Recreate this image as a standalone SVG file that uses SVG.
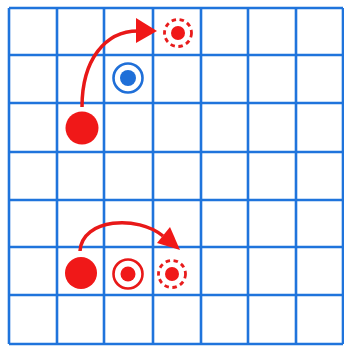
<svg xmlns="http://www.w3.org/2000/svg" width="344" height="347" viewBox="0 0 344 347">
<style>
.grid line{stroke:#1f74dc;stroke-width:2.6}
.red{fill:#f01818}
.ring{fill:none;stroke-width:2.6}
.dash{fill:none;stroke:#e81c1c;stroke-width:2.8;stroke-dasharray:4.5 3.6}
.conn{fill:none;stroke:#e81818;stroke-width:3.5}
</style>
<rect width="344" height="347" fill="#ffffff"/>
<g class="grid">
<line x1="9" y1="8" x2="343" y2="8"/>
<line x1="9" y1="55" x2="343" y2="55"/>
<line x1="9" y1="103" x2="343" y2="103"/>
<line x1="9" y1="152" x2="343" y2="152"/>
<line x1="9" y1="200" x2="343" y2="200"/>
<line x1="9" y1="247" x2="343" y2="247"/>
<line x1="9" y1="295" x2="343" y2="295"/>
<line x1="9" y1="344" x2="343" y2="344"/>
<line x1="9" y1="8" x2="9" y2="344"/>
<line x1="57" y1="8" x2="57" y2="344"/>
<line x1="104" y1="8" x2="104" y2="344"/>
<line x1="153" y1="8" x2="153" y2="344"/>
<line x1="201" y1="8" x2="201" y2="344"/>
<line x1="248" y1="8" x2="248" y2="344"/>
<line x1="296" y1="8" x2="296" y2="344"/>
<line x1="343" y1="8" x2="343" y2="344"/>
</g>
<g id="start-top"><circle class="red" cx="82" cy="128" r="16.5"/></g>
<g id="blue-target"><circle class="ring" cx="128" cy="78" r="14.5" stroke="#1f6fd8"/><circle cx="128" cy="78" r="8" fill="#1f6fd8"/></g>
<g id="end-top"><circle class="dash" cx="178" cy="33" r="13.5"/><circle class="red" cx="178" cy="33" r="7"/></g>
<g id="start-bottom"><circle class="red" cx="81" cy="273" r="16"/></g>
<g id="red-target"><circle class="ring" cx="128" cy="274" r="14.5" stroke="#e81818"/><circle class="red" cx="128" cy="274" r="7.5"/></g>
<g id="end-bottom"><circle class="dash" cx="172" cy="274" r="13.5"/><circle class="red" cx="172" cy="274" r="7"/></g>
<g id="connectors">
<path class="conn" d="M82,107 C82,60 105,31 138,31"/>
<polygon class="red" points="136,18 157,31 136,43"/>
<path class="conn" d="M80,251 C82,218 138,215 163,236"/>
<polygon class="red" points="170,227 180,250 157,243"/>
</g>
</svg>
